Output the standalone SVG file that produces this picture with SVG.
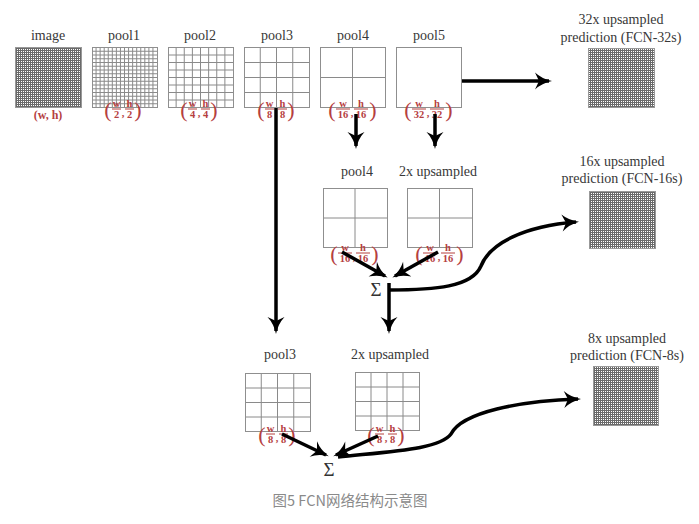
<svg xmlns="http://www.w3.org/2000/svg" xmlns:xlink="http://www.w3.org/1999/xlink" width="699" height="524" viewBox="0 0 699 524">
<style>
.lbl{font-family:"Liberation Serif","DejaVu Serif",serif;font-size:14px;fill:#383838;text-anchor:middle}
.sig{font-family:"Liberation Serif","DejaVu Serif",serif;font-size:19px;fill:#333;text-anchor:middle}
.fr{font-family:"Liberation Serif","DejaVu Serif",serif;font-size:10.5px;font-weight:bold;fill:#b5403f;text-anchor:middle}
.par{font-family:"Liberation Serif","DejaVu Serif",serif;font-size:22px;fill:#b5403f;text-anchor:middle}
.wh{font-family:"Liberation Serif","DejaVu Serif",serif;font-size:12px;font-weight:bold;fill:#b5403f;text-anchor:middle}
.bar{stroke:#b5403f;stroke-width:1}
.gl{fill:none;stroke:#8a8a8a;stroke-width:1;vector-effect:non-scaling-stroke}
.box{fill:none;stroke:#8f8f8f;stroke-width:1}
.dense{fill:url(#dense);stroke:#999;stroke-width:1}
.ar{fill:none;stroke:#000;stroke-width:3.5;marker-end:url(#ah)}
.cap{font-family:"Noto Sans CJK SC","Noto Sans",sans-serif;font-size:14.5px;fill:#8a8a8a;text-anchor:middle}
</style>
<defs>
<marker id="ah" viewBox="-1 -10 19 20" markerWidth="19" markerHeight="20" refX="14" refY="0" orient="auto" markerUnits="userSpaceOnUse">
<path d="M0,-8.5 Q7,-2 17,0 Q7,2 0,8.5 L4,0 Z" fill="#000"/>
</marker>
<pattern id="dense" width="2" height="2" patternUnits="userSpaceOnUse">
<rect width="2" height="2" fill="#fff"/>
<path d="M0.5,0V2M0,0.5H2" stroke="#6a6a6a" stroke-width="1"/>
</pattern>
<symbol id="g16" viewBox="0 0 64 64" preserveAspectRatio="none">
<path class="gl" d="M4 0V64M8 0V64M12 0V64M16 0V64M20 0V64M24 0V64M28 0V64M32 0V64M36 0V64M40 0V64M44 0V64M48 0V64M52 0V64M56 0V64M60 0V64M0 4H64M0 8H64M0 12H64M0 16H64M0 20H64M0 24H64M0 28H64M0 32H64M0 36H64M0 40H64M0 44H64M0 48H64M0 52H64M0 56H64M0 60H64"/>
</symbol>
<symbol id="g8" viewBox="0 0 64 64" preserveAspectRatio="none">
<path class="gl" d="M8 0V64M16 0V64M24 0V64M32 0V64M40 0V64M48 0V64M56 0V64M0 8H64M0 16H64M0 24H64M0 32H64M0 40H64M0 48H64M0 56H64"/>
</symbol>
<symbol id="g4" viewBox="0 0 64 64" preserveAspectRatio="none">
<path class="gl" d="M16 0V64M32 0V64M48 0V64M0 16H64M0 32H64M0 48H64"/>
</symbol>
<symbol id="g2" viewBox="0 0 64 64" preserveAspectRatio="none">
<path class="gl" d="M32 0V64M0 32H64"/>
</symbol>
</defs>
<rect width="699" height="524" fill="#fff"/>

<g id="image">
<text class="lbl" x="48" y="40">image</text>
<rect class="dense" x="15.5" y="47.5" width="66" height="60"/>
<text class="wh" x="48" y="119">(w, h)</text>
</g>

<g id="pool1">
<text class="lbl" x="124" y="40">pool1</text>
<use xlink:href="#g16" x="92" y="47.5" width="65" height="60"/>
<rect class="box" x="92.5" y="47.5" width="65" height="60"/>
<text class="par" x="108" y="117">(</text>
<text class="fr" x="116.5" y="106.5">w</text><line class="bar" x1="112" y1="109" x2="121" y2="109"/><text class="fr" x="116.5" y="118">2</text>
<text class="fr" x="123" y="117">,</text>
<text class="fr" x="129.5" y="106.5">h</text><line class="bar" x1="125" y1="109" x2="134" y2="109"/><text class="fr" x="129.5" y="118">2</text>
<text class="par" x="138" y="117">)</text>
</g>

<g id="pool2">
<text class="lbl" x="200" y="40">pool2</text>
<use xlink:href="#g8" x="168" y="47.5" width="65" height="60"/>
<rect class="box" x="168.5" y="47.5" width="65" height="60"/>
<text class="par" x="184" y="117">(</text>
<text class="fr" x="192.5" y="106.5">w</text><line class="bar" x1="188" y1="109" x2="197" y2="109"/><text class="fr" x="192.5" y="118">4</text>
<text class="fr" x="199" y="117">,</text>
<text class="fr" x="205.5" y="106.5">h</text><line class="bar" x1="201" y1="109" x2="210" y2="109"/><text class="fr" x="205.5" y="118">4</text>
<text class="par" x="214" y="117">)</text>
</g>

<g id="pool3">
<text class="lbl" x="277" y="40">pool3</text>
<use xlink:href="#g4" x="244" y="47.5" width="65" height="60"/>
<rect class="box" x="244.5" y="47.5" width="65" height="60"/>
<text class="par" x="261" y="117">(</text>
<text class="fr" x="269.5" y="106.5">w</text><line class="bar" x1="265" y1="109" x2="274" y2="109"/><text class="fr" x="269.5" y="118">8</text>
<text class="fr" x="276" y="117">,</text>
<text class="fr" x="282.5" y="106.5">h</text><line class="bar" x1="278" y1="109" x2="287" y2="109"/><text class="fr" x="282.5" y="118">8</text>
<text class="par" x="291" y="117">)</text>
</g>

<g id="pool4">
<text class="lbl" x="353" y="40">pool4</text>
<use xlink:href="#g2" x="320" y="47.5" width="65" height="60"/>
<rect class="box" x="320.5" y="47.5" width="65" height="60"/>
<text class="par" x="332" y="117">(</text>
<text class="fr" x="343" y="106.5">w</text><line class="bar" x1="336" y1="109" x2="350" y2="109"/><text class="fr" x="343" y="118">16</text>
<text class="fr" x="352" y="117">,</text>
<text class="fr" x="361" y="106.5">h</text><line class="bar" x1="354" y1="109" x2="368" y2="109"/><text class="fr" x="361" y="118">16</text>
<text class="par" x="373" y="117">)</text>
</g>

<g id="pool5">
<text class="lbl" x="429" y="40">pool5</text>
<rect class="box" x="396.5" y="47.5" width="65" height="60"/>
<text class="par" x="408" y="117">(</text>
<text class="fr" x="419" y="106.5">w</text><line class="bar" x1="412" y1="109" x2="426" y2="109"/><text class="fr" x="419" y="118">32</text>
<text class="fr" x="428" y="117">,</text>
<text class="fr" x="437" y="106.5">h</text><line class="bar" x1="430" y1="109" x2="444" y2="109"/><text class="fr" x="437" y="118">32</text>
<text class="par" x="449" y="117">)</text>
</g>

<g id="pred32">
<text class="lbl" x="621" y="24">32x upsampled</text>
<text class="lbl" x="621" y="42">prediction (FCN-32s)</text>
<rect class="dense" x="588.5" y="48.5" width="66" height="59"/>
</g>

<g id="mid-pool4">
<text class="lbl" x="357" y="176">pool4</text>
<use xlink:href="#g2" x="323" y="188.5" width="64" height="59"/>
<rect class="box" x="323.5" y="188.5" width="64" height="59"/>
<text class="par" x="334" y="261">(</text>
<text class="fr" x="345" y="250.5">w</text><line class="bar" x1="338" y1="253" x2="352" y2="253"/><text class="fr" x="345" y="262">16</text>
<text class="fr" x="354" y="261">,</text>
<text class="fr" x="363" y="250.5">h</text><line class="bar" x1="356" y1="253" x2="370" y2="253"/><text class="fr" x="363" y="262">16</text>
<text class="par" x="375" y="261">)</text>
</g>

<g id="mid-up2">
<text class="lbl" x="438" y="176">2x upsampled</text>
<use xlink:href="#g2" x="407" y="188.5" width="65" height="59"/>
<rect class="box" x="407.5" y="188.5" width="65" height="59"/>
<text class="par" x="419" y="261">(</text>
<text class="fr" x="430" y="250.5">w</text><line class="bar" x1="423" y1="253" x2="437" y2="253"/><text class="fr" x="430" y="262">16</text>
<text class="fr" x="439" y="261">,</text>
<text class="fr" x="448" y="250.5">h</text><line class="bar" x1="441" y1="253" x2="455" y2="253"/><text class="fr" x="448" y="262">16</text>
<text class="par" x="460" y="261">)</text>
</g>

<g id="sum1">
<text class="sig" x="376" y="296">Σ</text>
</g>

<g id="pred16">
<text class="lbl" x="622" y="166">16x upsampled</text>
<text class="lbl" x="622" y="183">prediction (FCN-16s)</text>
<rect class="dense" x="589.5" y="191.5" width="66" height="57"/>
</g>

<g id="bot-pool3">
<text class="lbl" x="280" y="359">pool3</text>
<use xlink:href="#g4" x="245" y="373.5" width="65" height="58"/>
<rect class="box" x="245.5" y="373.5" width="65" height="58"/>
<text class="par" x="262" y="442">(</text>
<text class="fr" x="270.5" y="431.5">w</text><line class="bar" x1="266" y1="434" x2="275" y2="434"/><text class="fr" x="270.5" y="443">8</text>
<text class="fr" x="277" y="442">,</text>
<text class="fr" x="283.5" y="431.5">h</text><line class="bar" x1="279" y1="434" x2="288" y2="434"/><text class="fr" x="283.5" y="443">8</text>
<text class="par" x="292" y="442">)</text>
</g>

<g id="bot-up2">
<text class="lbl" x="390" y="359">2x upsampled</text>
<use xlink:href="#g4" x="355" y="372.5" width="64" height="58"/>
<rect class="box" x="355.5" y="372.5" width="64" height="58"/>
<text class="par" x="371" y="442">(</text>
<text class="fr" x="379.5" y="431.5">w</text><line class="bar" x1="375" y1="434" x2="384" y2="434"/><text class="fr" x="379.5" y="443">8</text>
<text class="fr" x="386" y="442">,</text>
<text class="fr" x="392.5" y="431.5">h</text><line class="bar" x1="388" y1="434" x2="397" y2="434"/><text class="fr" x="392.5" y="443">8</text>
<text class="par" x="401" y="442">)</text>
</g>

<g id="sum2">
<text class="sig" x="329" y="476">Σ</text>
</g>

<g id="pred8">
<text class="lbl" x="627" y="343">8x upsampled</text>
<text class="lbl" x="627" y="360">prediction (FCN-8s)</text>
<rect class="dense" x="593.5" y="366.5" width="65" height="59"/>
</g>

<g id="connectors">
<path class="ar" d="M462,81 H549"/>
<path class="ar" d="M276,108 V331"/>
<path class="ar" d="M356,114 V146"/>
<path class="ar" d="M435,114 V146"/>
<path class="ar" d="M342,252 L385,276"/>
<path class="ar" d="M438,252 L395,276"/>
<path class="ar" d="M389,283 V331"/>
<path class="ar" d="M389,290 C435,290 472,287 481,266 C490,243 525,226 576,222"/>
<path class="ar" d="M282,434 L326,455"/>
<path class="ar" d="M378,436 L336,455"/>
<path class="ar" d="M338,457 C395,451 440,449 451,434 C462,412 520,401 578,399"/>
</g>

<text class="cap" x="350" y="506">图5 FCN网络结构示意图</text>
</svg>
